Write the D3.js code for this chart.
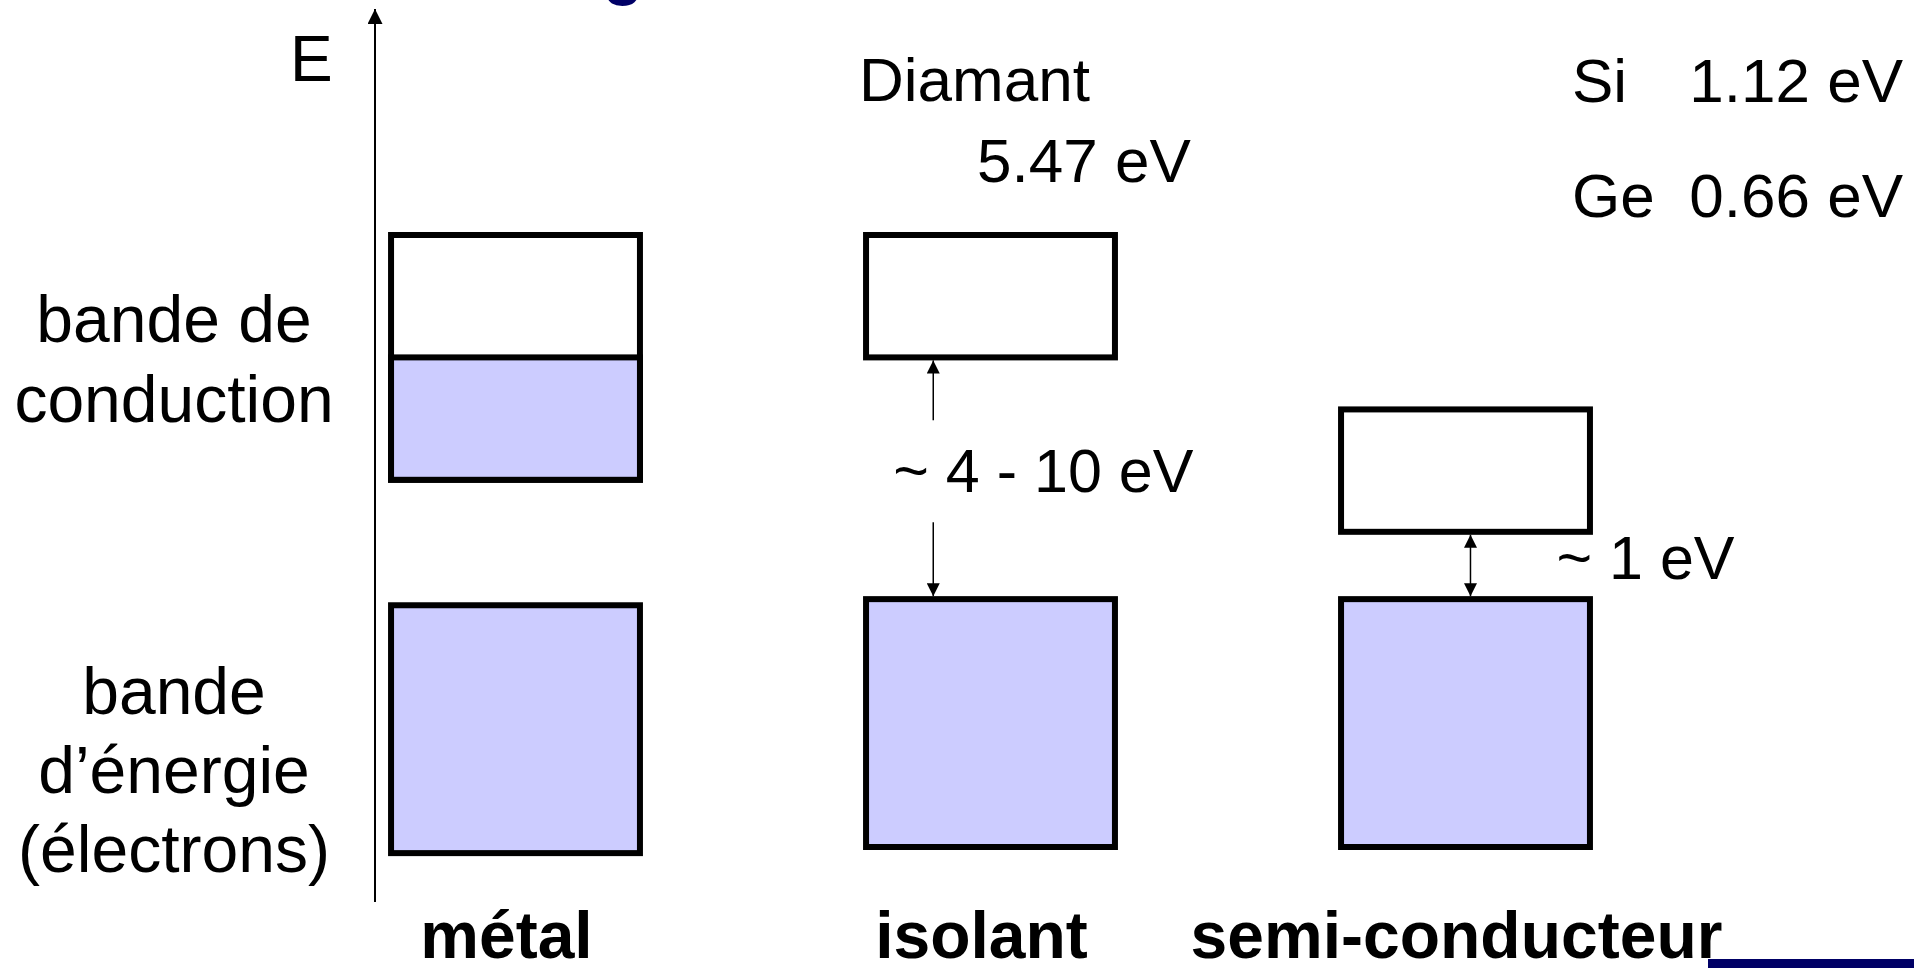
<!DOCTYPE html>
<html>
<head>
<meta charset="utf-8">
<script src="https://cdn.jsdelivr.net/npm/d3@7"></script>
<style>
  body { margin: 0; background: #fff; }
  svg { display: block; }
  text { font-family: "Liberation Sans", Arial, sans-serif; fill: #000; }
</style>
</head>
<body>
<div class="chart"></div>
<script>
/* global d3 */

// materials, left to right
var materials = ["métal", "isolant", "semi-conducteur"];

// band edges in arbitrary energy units : [bottom, top]
var valenceBands = [[-0.1, 3.95], [0, 4.05], [0, 4.05]];
var conductionBands = [[6.0, 10], [8.0, 10], [5.15, 7.15]];
// level up to which the conduction band is filled (only the metal)
var fillLevels = [8.0, null, null];

// gap annotations
var gapMaterials = ["isolant", "semi-conducteur"];
var gapLabels = ["~ 4 - 10 eV", "~ 1 eV"];

var sideLabelsTop = ["bande de", "conduction"];
var sideLabelsBottom = ["bande", "d’énergie", "(électrons)"];
var diamondLabels = ["Diamant", "5.47 eV"];
var semiNames = ["Si", "Ge"];
var semiGaps = ["1.12 eV", "0.66 eV"];

make_chart();

function make_chart() {
  var width = 1914;
  var height = 968;
  var blue = "#ccccff";
  var navy = "#000066";

  var svg = d3.select(".chart")
    .append("svg")
    .attr("width", width)
    .attr("height", height);

  var x = d3.scaleBand()
    .domain(materials)
    .range([278, 1703])
    .paddingInner(0.476)
    .paddingOuter(0.238);

  var y = d3.scaleLinear()
    .domain([0, 10])
    .range([847, 235]);

  // arrow heads
  var defs = svg.append("defs");
  defs.append("marker")
    .attr("id", "head")
    .attr("viewBox", "0 0 10 10")
    .attr("refX", 10).attr("refY", 5)
    .attr("markerUnits", "userSpaceOnUse")
    .attr("markerWidth", 14).attr("markerHeight", 13)
    .attr("orient", "auto-start-reverse")
    .append("path")
    .attr("d", "M0,0 L10,5 L0,10 z")
    .attr("fill", "#000");
  defs.append("marker")
    .attr("id", "bighead")
    .attr("viewBox", "0 0 10 10")
    .attr("refX", 10).attr("refY", 5)
    .attr("markerUnits", "userSpaceOnUse")
    .attr("markerWidth", 17).attr("markerHeight", 15)
    .attr("orient", "auto-start-reverse")
    .append("path")
    .attr("d", "M0,0 L10,5 L0,10 z")
    .attr("fill", "#000");

  // title remnant cut at the top
  svg.append("text")
    .attr("x", 603).attr("y", -8)
    .style("font-size", "66px").style("font-weight", "bold")
    .style("fill", navy)
    .text("g");

  // energy axis
  svg.append("line")
    .attr("x1", 375).attr("x2", 375)
    .attr("y1", 902).attr("y2", 9)
    .attr("stroke", "#000").attr("stroke-width", 2)
    .attr("marker-end", "url(#bighead)");

  svg.append("text")
    .attr("x", 290).attr("y", 81)
    .style("font-size", "64px")
    .text("E");

  // side labels
  svg.selectAll(".side-top")
    .data(sideLabelsTop)
    .enter().append("text")
    .attr("class", "side-top")
    .attr("x", 174)
    .attr("y", function(d, i) { return 342 + i * 80; })
    .attr("text-anchor", "middle")
    .style("font-size", "66px")
    .text(function(d) { return d; });

  svg.selectAll(".side-bottom")
    .data(sideLabelsBottom)
    .enter().append("text")
    .attr("class", "side-bottom")
    .attr("x", 174)
    .attr("y", function(d, i) { return 714 + i * 79; })
    .attr("text-anchor", "middle")
    .style("font-size", "66px")
    .text(function(d) { return d; });

  var rows = materials.map(function(m, i) {
    return { name: m, val: valenceBands[i], cond: conductionBands[i], fill: fillLevels[i] };
  });

  var boxes = svg.append("g").attr("stroke", "#000").attr("stroke-width", 6);

  // valence bands (full)
  boxes.selectAll(".valence")
    .data(rows)
    .enter().append("rect")
    .attr("class", "valence")
    .attr("x", function(d) { return x(d.name); })
    .attr("width", x.bandwidth())
    .attr("y", function(d) { return y(d.val[1]); })
    .attr("height", function(d) { return y(d.val[0]) - y(d.val[1]); })
    .attr("fill", blue);

  // conduction bands (empty)
  boxes.selectAll(".conduction")
    .data(rows)
    .enter().append("rect")
    .attr("class", "conduction")
    .attr("x", function(d) { return x(d.name); })
    .attr("width", x.bandwidth())
    .attr("y", function(d) { return y(d.cond[1]); })
    .attr("height", function(d) { return y(d.cond[0]) - y(d.cond[1]); })
    .attr("fill", "#fff");

  // filled part of the conduction band
  boxes.selectAll(".filled")
    .data(rows.filter(function(d) { return d.fill != null; }))
    .enter().append("rect")
    .attr("class", "filled")
    .attr("x", function(d) { return x(d.name); })
    .attr("width", x.bandwidth())
    .attr("y", function(d) { return y(d.fill); })
    .attr("height", function(d) { return y(d.cond[0]) - y(d.fill); })
    .attr("fill", blue);

  // gap arrows + labels
  var arrowPos = [0.27, 0.52];
  var labelDx = [-40, 86];
  gapMaterials.forEach(function(m, i) {
    var r = rows[materials.indexOf(m)];
    var ax = x(m) + arrowPos[i] * x.bandwidth();
    var yTop = y(r.cond[0]) + 3;
    var yBot = y(r.val[1]) - 3;
    var base = (yTop + yBot) / 2 + 14;

    if (i === 0) {
      // label sits between two arrows
      svg.append("line")
        .attr("x1", ax).attr("x2", ax)
        .attr("y1", base - 72).attr("y2", yTop)
        .attr("stroke", "#000").attr("stroke-width", 1.5)
        .attr("marker-end", "url(#head)");
      svg.append("line")
        .attr("x1", ax).attr("x2", ax)
        .attr("y1", base + 30).attr("y2", yBot)
        .attr("stroke", "#000").attr("stroke-width", 1.5)
        .attr("marker-end", "url(#head)");
    } else {
      svg.append("line")
        .attr("x1", ax).attr("x2", ax)
        .attr("y1", yTop).attr("y2", yBot)
        .attr("stroke", "#000").attr("stroke-width", 1.5)
        .attr("marker-start", "url(#head)")
        .attr("marker-end", "url(#head)");
    }

    svg.append("text")
      .attr("x", ax + labelDx[i])
      .attr("y", base)
      .style("font-size", "61px")
      .text(gapLabels[i]);
  });

  // diamond label
  svg.selectAll(".diamond")
    .data(diamondLabels)
    .enter().append("text")
    .attr("class", "diamond")
    .attr("x", function(d, i) { return i === 0 ? 859 : 977; })
    .attr("y", function(d, i) { return i === 0 ? 101 : 182; })
    .style("font-size", "62px")
    .text(function(d) { return d; });

  // Si / Ge gaps
  svg.selectAll(".semi-name")
    .data(semiNames)
    .enter().append("text")
    .attr("class", "semi-name")
    .attr("x", 1572)
    .attr("y", function(d, i) { return 102 + i * 115; })
    .style("font-size", "62px")
    .text(function(d) { return d; });

  svg.selectAll(".semi-gap")
    .data(semiGaps)
    .enter().append("text")
    .attr("class", "semi-gap")
    .attr("x", 1903)
    .attr("y", function(d, i) { return 102 + i * 115; })
    .attr("text-anchor", "end")
    .style("font-size", "62px")
    .text(function(d) { return d; });

  // material names
  svg.selectAll(".material")
    .data(materials)
    .enter().append("text")
    .attr("class", "material")
    .attr("x", function(d) { return x(d) + x.bandwidth() / 2 - 9; })
    .attr("y", 958)
    .attr("text-anchor", "middle")
    .style("font-size", "66px")
    .style("font-weight", "bold")
    .text(function(d) { return d; });

  // slide footer bar
  svg.append("rect")
    .attr("x", 1708).attr("y", 959)
    .attr("width", 206).attr("height", 9)
    .attr("fill", navy);
}
</script>
</body>
</html>
